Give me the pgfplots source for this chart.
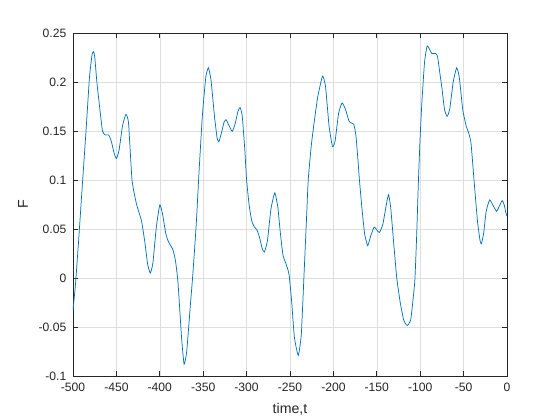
\documentclass[border=0pt]{standalone}
\usepackage{pgfplots}
\pgfplotsset{compat=1.18}
\usepackage{fontspec}
\setmainfont{Liberation Sans}
\definecolor{mlblue}{rgb}{0,0.447,0.741}
\definecolor{mlaxis}{rgb}{0.15,0.15,0.15}

\begin{document}
\begin{tikzpicture}[x=1pt,y=1pt]
% 560x420 px page, 1px = 0.75pt; axis box at px 73..507 x 33..376
\useasboundingbox (-54.75,-33) rectangle (365.25,282);
\begin{axis}[
  at={(0,0)}, anchor=south west,
  scale only axis,
  width=325.5pt, height=257.25pt,
  xmin=-500, xmax=0,
  ymin=-0.1, ymax=0.25,
  xtick={-500,-450,...,0},
  ytick={-0.1,-0.05,0,0.05,0.1,0.15,0.2,0.25},
  yticklabels={-0.1,-0.05,0,0.05,0.1,0.15,0.2,0.25},
  xticklabels={-500,-450,-400,-350,-300,-250,-200,-150,-100,-50,0},
  scaled y ticks=false,
  grid=major,
  grid style={draw=gray!25, line width=0.4pt},
  axis line style={draw=mlaxis, line width=0.5pt},
  tick style={draw=mlaxis, line width=0.5pt},
  major tick length=3.5pt,
  tick align=inside,
  xtick pos=both, ytick pos=both,
  tick label style={font=\fontsize{9.1}{11}\selectfont, text=mlaxis},
  xticklabel style={yshift=-1.5pt},
  yticklabel style={xshift=-1.5pt},
  label style={font=\fontsize{10.6}{12}\selectfont, text=mlaxis},
  /pgf/number format/assume math mode=true,
  xlabel={time,t},
  ylabel={F},
  xlabel style={at={(axis description cs:0.5,-0.096)}, anchor=center},
  ylabel style={at={(axis description cs:-0.115,0.5)}, anchor=center, rotate=0},
]
\addplot[mlblue, line width=0.55pt, smooth, tension=0.3] coordinates {
(-500,-0.033) (-497,-0.005) (-493,0.045) (-489,0.098) (-485,0.15)
(-481,0.205) (-478,0.228) (-476.5,0.231) (-475,0.226) (-472.5,0.200)
(-469,0.172) (-466,0.150) (-463,0.146) (-459,0.146) (-456,0.140)
(-452.5,0.127) (-450,0.122) (-447,0.130) (-443,0.155) (-439,0.167)
(-436,0.158) (-432,0.100) (-427,0.076) (-421,0.058) (-417,0.035)
(-414,0.014) (-411,0.005) (-408,0.015) (-404,0.052) (-400,0.0745)
(-397,0.066) (-393,0.045) (-390,0.037) (-385,0.029) (-382,0.018)
(-379,-0.005) (-375,-0.060) (-372,-0.088) (-369,-0.075) (-365,-0.030)
(-362,0.003) (-358,0.055) (-355,0.105) (-351,0.165) (-347,0.205)
(-344,0.2145) (-341,0.202) (-337,0.165) (-334,0.143) (-332,0.139)
(-329,0.148) (-326,0.159) (-323.5,0.1615) (-320,0.155) (-316.5,0.1496)
(-313,0.158) (-310,0.170) (-307.5,0.174) (-305,0.165) (-302,0.130)
(-300,0.100) (-297,0.074) (-294,0.058) (-291,0.052) (-288,0.049)
(-285,0.041) (-282,0.030) (-279.5,0.0266) (-276,0.038) (-272,0.070)
(-267.5,0.087) (-264,0.072) (-261,0.045) (-258,0.023) (-254,0.013)
(-251,0.003) (-248,-0.025) (-245,-0.060) (-240.5,-0.079) (-237,-0.058)
(-234,0.000) (-231,0.060) (-229,0.100) (-225.5,0.135) (-222,0.160)
(-218,0.185) (-212.5,0.206) (-209,0.195) (-205,0.155) (-201,0.134)
(-198,0.140) (-194,0.168) (-190,0.1786) (-186,0.172) (-182,0.160)
(-179,0.158) (-176.5,0.157) (-174,0.145) (-171.5,0.118) (-170,0.100)
(-167,0.070) (-164,0.045) (-160.5,0.033) (-157,0.043) (-153,0.052)
(-150,0.049) (-147,0.0464) (-143,0.055) (-139,0.075) (-136.5,0.085)
(-134,0.072) (-130,0.030) (-127,0.000) (-123,-0.025) (-119,-0.043)
(-115,-0.0485) (-111,-0.043) (-108,-0.020) (-106,0.000) (-104,0.045)
(-102,0.100) (-100,0.145) (-98,0.180) (-95,0.220) (-92,0.2367)
(-89,0.233) (-86.5,0.229) (-82,0.229) (-80,0.226) (-77.5,0.210)
(-75,0.194) (-72,0.172) (-69,0.165) (-66,0.172) (-62,0.200)
(-58,0.2145) (-55,0.205) (-51,0.172) (-47,0.155) (-44.5,0.149)
(-41.5,0.138) (-38,0.100) (-34,0.058) (-31,0.038) (-29.5,0.035)
(-27,0.045) (-24,0.068) (-20,0.0796) (-16,0.074) (-12,0.068)
(-9,0.073) (-5.5,0.079) (-3,0.074) (-1.5,0.067) (0,0.063)
};
\end{axis}
\end{tikzpicture}
\end{document}
